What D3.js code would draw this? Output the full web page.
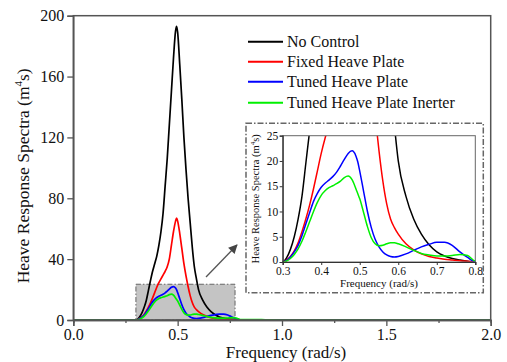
<!DOCTYPE html>
<html>
<head>
<meta charset="utf-8">
<script src="https://cdn.jsdelivr.net/npm/d3@7"></script>
<style>
  html, body { margin: 0; padding: 0; background: #fff; }
  svg { display: block; }
  text { font-family: "Liberation Serif", "Times New Roman", serif; fill: #111; }
</style>
</head>
<body>
<svg id="chart" width="507" height="362"></svg>
<script>
// Frequency grid (rad/s) shared by all response spectra
const freq = [0, 0.1, 0.2, 0.28,
  0.30, 0.31, 0.32, 0.33, 0.34, 0.35, 0.36, 0.37, 0.38, 0.39,
  0.40, 0.41, 0.42, 0.43, 0.44, 0.45, 0.46, 0.47, 0.48, 0.49, 0.495,
  0.50, 0.51, 0.52, 0.53, 0.54, 0.55, 0.56, 0.57, 0.58, 0.59, 0.60,
  0.62, 0.64, 0.66, 0.68, 0.70, 0.72, 0.74, 0.76, 0.78, 0.80,
  0.84, 0.88, 0.92, 1.0, 1.5, 2.0];

// Heave response spectra (m^4 s)
const noControl = [0, 0, 0, 0,
  0, 0.8, 2.5, 5, 8.5, 13, 19.5, 26, 32, 37,
  42, 49, 58, 70, 88, 106, 128, 150, 172, 190, 193,
  189, 168, 145, 120, 99, 80, 64, 48, 35, 27, 20,
  13, 8.5, 5.5, 3.4, 2.0, 1.2, 0.7, 0.4, 0.15, 0,
  0, 0, 0, 0, 0, 0];
const fixedPlate = [0, 0, 0, 0,
  0, 0.4, 1.1, 2.2, 3.8, 6, 8.5, 11.3, 14.5, 18,
  21.5, 24.5, 27, 29.5, 32, 35, 40, 49, 58, 65, 67,
  65, 57, 47, 37, 29, 22, 16, 11.5, 8.5, 6.8, 5.5,
  3.6, 2.4, 1.6, 1.1, 0.8, 0.55, 0.4, 0.25, 0.15, 0.05,
  0, 0, 0, 0, 0, 0];
const tunedPlate = [0, 0, 0, 0,
  0, 0.3, 1.0, 2.0, 3.3, 5.2, 7.5, 9.8, 12, 13.6,
  14.8, 15.6, 16.2, 16.9, 17.8, 19, 20.3, 21.5, 22, 21, 19.8,
  18, 14, 10, 6.8, 4.5, 3, 2, 1.4, 1.1, 1.0, 1.1,
  1.6, 2.3, 3.0, 3.5, 3.9, 3.9, 3.3, 2.0, 0.9, 0.1,
  0.1, 0, 0, 0, 0, 0];
const tunedInerter = [0, 0, 0, 0,
  0, 0.2, 0.7, 1.5, 2.6, 4.1, 6, 8, 10, 11.8,
  13.2, 14.1, 14.7, 15.1, 15.5, 16, 16.7, 17, 16.3, 14.5, 13.5,
  12.5, 9.8, 7, 4.8, 3.6, 3.2, 3.3, 3.6, 3.8, 3.8, 3.6,
  3.0, 2.3, 1.7, 1.4, 1.2, 1.2, 1.3, 1.5, 1.3, 0.2,
  0.3, 0.3, 0.1, 0, 0, 0];

const seriesNames = ["No Control", "Fixed Heave Plate", "Tuned Heave Plate", "Tuned Heave Plate Inerter"];
const seriesColors = ["#000000", "#ff0000", "#0000ff", "#00f000"];
const seriesValues = [noControl, fixedPlate, tunedPlate, tunedInerter];

// Axis ticks
const mainXTicks = [0, 0.5, 1.0, 1.5, 2.0];
const mainXMinor = [0.25, 0.75, 1.25, 1.75];
const mainYTicks = [0, 40, 80, 120, 160, 200];
const insetXTicks = [0.3, 0.4, 0.5, 0.6, 0.7, 0.8];
const insetYTicks = [0, 5, 10, 15, 20, 25];

// Zoomed window shown in the inset
const zoomX = [0.3, 0.775];
const zoomY = [0, 23.5];

const svg = d3.select("#chart");

const series = seriesNames.map((name, i) => ({
  name, color: seriesColors[i],
  points: freq.map((f, j) => ({ f, v: seriesValues[i][j] }))
}));

// ---------- main plot ----------
const M = { left: 73.3, right: 490.7, top: 15.7, bottom: 320 };
const x = d3.scaleLinear().domain([0, 2]).range([M.left, M.right]);
const y = d3.scaleLinear().domain([0, 200]).range([M.bottom, M.top]);

// shaded zoom window
svg.append("rect")
  .attr("x", x(zoomX[0])).attr("y", y(zoomY[1]))
  .attr("width", x(zoomX[1]) - x(zoomX[0]))
  .attr("height", y(zoomY[0]) - y(zoomY[1]))
  .attr("fill", "#c4c4c4")
  .attr("stroke", "#666").attr("stroke-width", 1)
  .attr("stroke-dasharray", "5,2,1.5,2");

const line = d3.line().x(d => x(d.f)).y(d => y(d.v)).curve(d3.curveMonotoneX);

svg.append("g").selectAll("path").data(series).join("path")
  .attr("d", d => line(d.points))
  .attr("fill", "none")
  .attr("stroke", d => d.color)
  .attr("stroke-width", 1.7)
  .attr("stroke-linejoin", "round");

// frame
svg.append("rect")
  .attr("x", M.left).attr("y", M.top)
  .attr("width", M.right - M.left).attr("height", M.bottom - M.top)
  .attr("fill", "none").attr("stroke", "#555").attr("stroke-width", 1.5);

const xAxis = svg.append("g").attr("transform", `translate(0,${M.bottom})`)
  .call(d3.axisBottom(x).tickValues(mainXTicks).tickFormat(d3.format(".1f")).tickSize(6).tickPadding(3));
svg.append("g").attr("transform", `translate(0,${M.bottom})`)
  .call(d3.axisBottom(x).tickValues(mainXMinor).tickFormat("").tickSize(3));
const yAxis = svg.append("g").attr("transform", `translate(${M.left},0)`)
  .call(d3.axisLeft(y).tickValues(mainYTicks).tickFormat(d3.format("d")).tickSize(6).tickPadding(3));

svg.selectAll(".domain").attr("stroke", "#555").attr("stroke-width", 1.5);
svg.selectAll(".tick line").attr("stroke", "#555").attr("stroke-width", 1.3);
xAxis.selectAll("text").attr("font-size", 16).attr("fill", "#111");
yAxis.selectAll("text").attr("font-size", 16).attr("fill", "#111");

svg.append("text")
  .attr("x", (M.left + M.right) / 2 + 4).attr("y", 358)
  .attr("text-anchor", "middle").attr("font-size", 17)
  .text("Frequency (rad/s)");

const yl = svg.append("text")
  .attr("transform", `translate(29,${(M.top + M.bottom) / 2 + 8}) rotate(-90)`)
  .attr("text-anchor", "middle").attr("font-size", 17.5);
yl.append("tspan").text("Heave Response Spectra (m");
yl.append("tspan").attr("dy", -7).attr("font-size", 11).text("4");
yl.append("tspan").attr("dy", 7).text("s)");

// legend
const legend = svg.append("g");
const legendRows = [41.7, 61.7, 81.7, 102.7];
series.forEach((s, i) => {
  legend.append("line")
    .attr("x1", 248).attr("x2", 283)
    .attr("y1", legendRows[i]).attr("y2", legendRows[i])
    .attr("stroke", s.color).attr("stroke-width", 2);
  legend.append("text")
    .attr("x", 287).attr("y", legendRows[i] + 5.5)
    .attr("font-size", 16).text(s.name);
});

// arrow pointing to the inset
svg.append("defs").append("marker")
  .attr("id", "arrowHead").attr("viewBox", "0 0 10 10")
  .attr("refX", 9).attr("refY", 5)
  .attr("markerWidth", 11).attr("markerHeight", 9)
  .attr("markerUnits", "userSpaceOnUse")
  .attr("orient", "auto")
  .append("path").attr("d", "M0,0 L10,5 L0,10 Z").attr("fill", "#444");
svg.append("line")
  .attr("x1", 206).attr("y1", 277).attr("x2", 237).attr("y2", 245)
  .attr("stroke", "#555").attr("stroke-width", 1.3)
  .attr("marker-end", "url(#arrowHead)");

// ---------- inset ----------
svg.append("rect")
  .attr("x", 246).attr("y", 123.3).attr("width", 237.3).attr("height", 169.4)
  .attr("fill", "#fff")
  .attr("stroke", "#666").attr("stroke-width", 1.5)
  .attr("stroke-dasharray", "6,2,1.5,2");

const I = { left: 282.7, right: 475.3, top: 135.7, bottom: 262 };
const xi = d3.scaleLinear().domain([0.3, 0.8]).range([I.left, I.right]);
const yi = d3.scaleLinear().domain([0, 25]).range([I.bottom, I.top]);

svg.append("clipPath").attr("id", "insetClip")
  .append("rect").attr("x", I.left).attr("y", I.top)
  .attr("width", I.right - I.left).attr("height", I.bottom - I.top);

const insetLine = d3.line().x(d => xi(d.f)).y(d => yi(d.v)).curve(d3.curveMonotoneX);
svg.append("g").attr("clip-path", "url(#insetClip)")
  .selectAll("path").data(series).join("path")
  .attr("d", d => insetLine(d.points))
  .attr("fill", "none")
  .attr("stroke", d => d.color)
  .attr("stroke-width", 1.5);

svg.append("rect")
  .attr("x", I.left).attr("y", I.top)
  .attr("width", I.right - I.left).attr("height", I.bottom - I.top)
  .attr("fill", "none").attr("stroke", "#666").attr("stroke-width", 1);

const ixAxis = svg.append("g").attr("transform", `translate(0,${I.bottom})`)
  .call(d3.axisBottom(xi).tickValues(insetXTicks).tickFormat(d3.format(".1f")).tickSize(3).tickPadding(2));
const iyAxis = svg.append("g").attr("transform", `translate(${I.left},0)`)
  .call(d3.axisLeft(yi).tickValues(insetYTicks).tickFormat(d3.format("d")).tickSize(3).tickPadding(1.5));
[ixAxis, iyAxis].forEach(a => {
  a.select(".domain").attr("stroke", "#333").attr("stroke-width", 1.2);
  a.selectAll(".tick line").attr("stroke", "#333");
  a.selectAll("text").attr("font-size", 11.5).attr("fill", "#111");
});
// lift the lowest y label slightly so it clears the first x label
iyAxis.selectAll(".tick").filter(d => d === 0).select("text").attr("dy", "0.1em");

svg.append("text")
  .attr("x", (I.left + I.right) / 2).attr("y", 287)
  .attr("text-anchor", "middle").attr("font-size", 11)
  .text("Frequency (rad/s)");

const iyl = svg.append("text")
  .attr("transform", `translate(258.5,${(I.top + I.bottom) / 2}) rotate(-90)`)
  .attr("text-anchor", "middle").attr("font-size", 10.5);
iyl.append("tspan").text("Heave Response Spectra (m");
iyl.append("tspan").attr("dy", -4).attr("font-size", 7).text("4");
iyl.append("tspan").attr("dy", 4).text("s)");
</script>
</body>
</html>
